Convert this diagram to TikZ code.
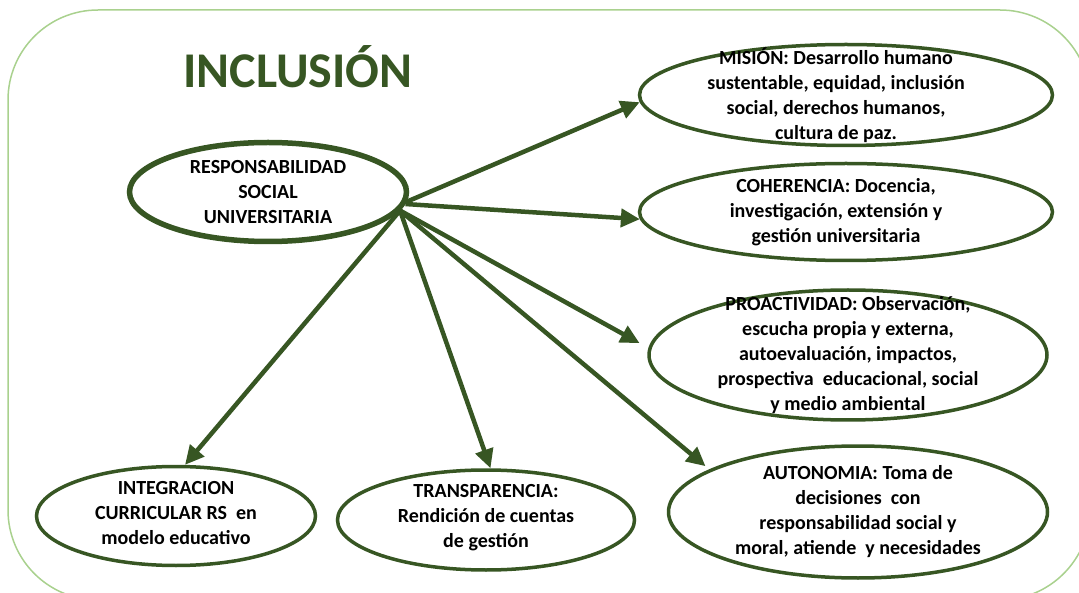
\documentclass[tikz,border=0pt]{standalone}
\usepackage{fontspec}
\setmainfont{Carlito}
\usetikzlibrary{shapes.geometric, arrows.meta, positioning}
\definecolor{darkgreen}{HTML}{375623}
\definecolor{lightgreen}{HTML}{A9D18E}

\begin{document}
\begin{tikzpicture}[
    x=1pt, y=-1pt,
    oval/.style={ellipse, draw=darkgreen, line width=3.5pt, inner sep=0pt},
    txt/.style={align=center, font=\bfseries\fontsize{20}{25}\selectfont, inner sep=0pt},
    arrow/.style={-{Triangle[length=19pt, width=18pt]}, line width=4.5pt, draw=darkgreen}
]
    \useasboundingbox (0,0) rectangle (1079,593);
    \clip (0,0) rectangle (1079,593);
    \draw[lightgreen, line width=1.5pt, rounded corners=90pt] (8,10) rectangle (1090,600);

    \node[font=\bfseries\fontsize{50}{60}\selectfont, text=darkgreen, anchor=base] (title) at (298,88) {INCLUSIÓN};

    \node[oval, line width=5.5pt, minimum width=277, minimum height=99,
        label={[txt]center:{RESPONSABILIDAD\\SOCIAL\\UNIVERSITARIA}}] (rsu) at (268,192) {};
    \node[oval, minimum width=413, minimum height=101,
        label={[txt, xshift=-10pt]center:{MISIÓN: Desarrollo humano\\sustentable, equidad, inclusión\\social, derechos humanos,\\cultura de paz.}}] (mision) at (846,95) {};
    \node[oval, minimum width=413, minimum height=97,
        label={[txt, xshift=-10pt]center:{COHERENCIA: Docencia,\\investigación, extensión y\\gestión universitaria}}] (coher) at (846,212) {};
    \node[oval, minimum width=398, minimum height=130,
        label={[txt]center:{PROACTIVIDAD: Observación,\\escucha propia y externa,\\autoevaluación, impactos,\\prospectiva\ \ educacional, social\\y medio ambiental}}] (proact) at (848,355) {};
    \node[oval, minimum width=379, minimum height=132,
        label={[txt]center:{AUTONOMIA: Toma de\\decisiones\ \ con\\responsabilidad social y\\moral, atiende\ \ y necesidades}}] (auton) at (858,512) {};
    \node[oval, minimum width=279, minimum height=99,
        label={[txt, yshift=3pt]center:{INTEGRACION\\CURRICULAR RS\ \ en\\modelo educativo}}] (integ) at (176,516) {};
    \node[oval, minimum width=297, minimum height=100,
        label={[txt, yshift=2pt]center:{TRANSPARENCIA:\\Rendición de cuentas\\de gestión}}] (transp) at (486,520) {};

    \draw[arrow] (rsu.-4) -- (mision.182);
    \draw[arrow] (rsu.-5) -- (coher.182);
    \draw[arrow, shorten >=10pt] (rsu.-8) -- (proact.178);
    \draw[arrow, shorten >=5pt] (rsu.-8) -- (auton.164);
    \draw[arrow] (rsu.-8) -- (transp.85);
    \draw[arrow] (rsu.-8) -- (integ.80);
\end{tikzpicture}
\end{document}
